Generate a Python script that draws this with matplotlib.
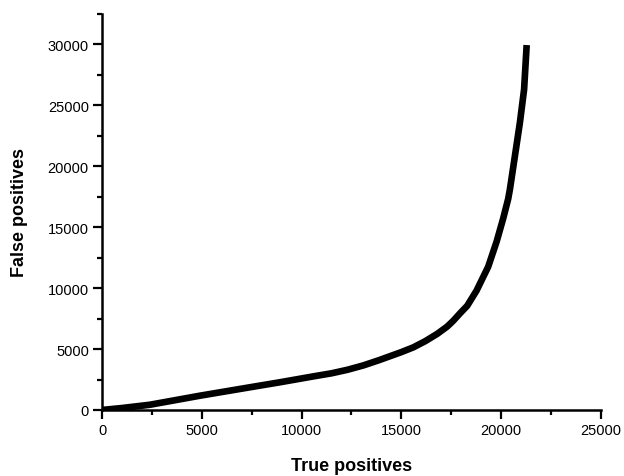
import matplotlib
matplotlib.use("Agg")
import matplotlib.pyplot as plt
from matplotlib.ticker import MultipleLocator

plt.rcParams["font.family"] = ["Liberation Sans", "DejaVu Sans"]

# values
true_pos = [0, 1000, 2400, 4900, 7400, 8900, 10600, 11500, 12300, 13100,
            13900, 15000, 15600, 16200, 16800, 17300, 17600, 17950, 18300,
            18770, 19350, 19770, 20100, 20350, 20440, 20690, 20940, 21150, 21280]
false_pos = [0, 160, 430, 1170, 1860, 2270, 2760, 3010, 3300, 3660,
             4100, 4750, 5140, 5650, 6250, 6850, 7320, 7950, 8550,
             9800, 11750, 13800, 15700, 17300, 18110, 20840, 23580, 26300, 29950]

fig = plt.figure(figsize=(6.24, 4.77), dpi=100)
ax = fig.add_axes([0.1635, 0.1384, 0.7995, 0.8302])

ax.plot(true_pos, false_pos, color="black", linewidth=4.8,
        solid_capstyle="butt", solid_joinstyle="round")

ax.set_xlim(0, 25000)
ax.set_ylim(0, 32500)
ax.xaxis.set_major_locator(MultipleLocator(5000))
ax.xaxis.set_minor_locator(MultipleLocator(2500))
ax.yaxis.set_major_locator(MultipleLocator(5000))
ax.yaxis.set_minor_locator(MultipleLocator(2500))

for side in ["top", "right"]:
    ax.spines[side].set_visible(False)
for side in ["left", "bottom"]:
    ax.spines[side].set_linewidth(1.8)

ax.tick_params(which="major", direction="out", length=6.5, width=1.6,
               labelsize=10.5, pad=3)
ax.tick_params(which="minor", direction="out", length=3.5, width=1.6)

ax.set_xlabel("True positives", fontsize=13, fontweight="bold", labelpad=14)
ax.set_ylabel("False positives", fontsize=13, fontweight="bold", labelpad=14)

fig.savefig("out.png", dpi=100)
